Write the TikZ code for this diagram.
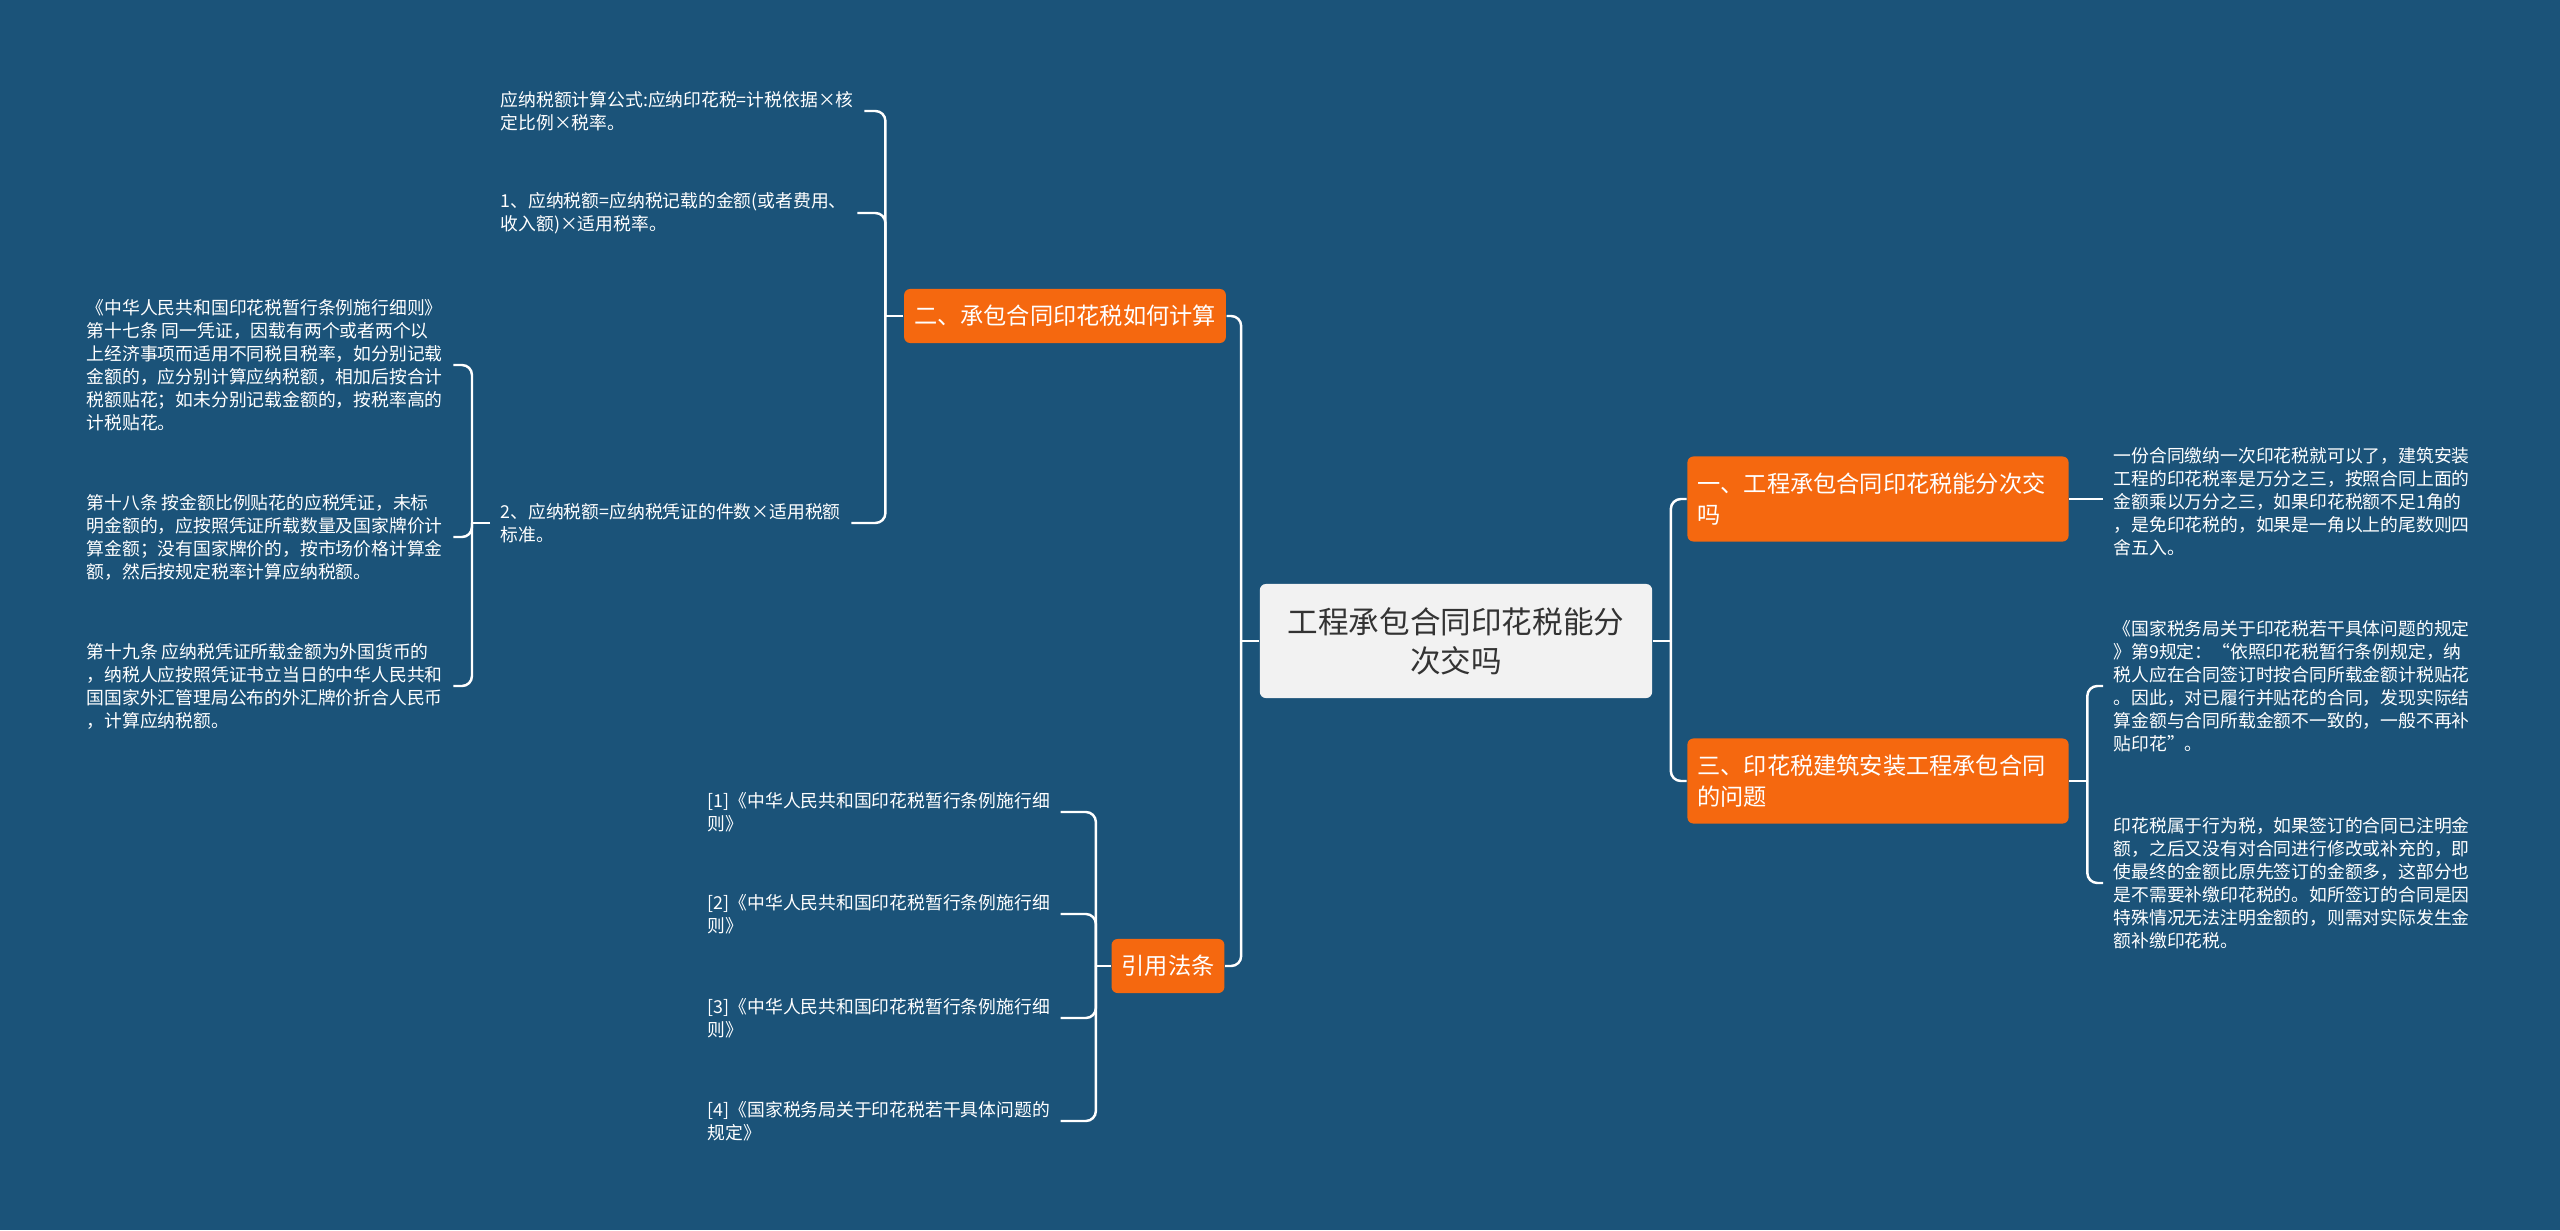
\documentclass[tikz,border=0pt]{standalone}
\usepackage{fontspec}
\setmainfont{Noto Sans CJK SC}
\usepackage{tikz}
\definecolor{bg}{HTML}{1B5379}
\definecolor{orange}{HTML}{F5680F}
\definecolor{rootfill}{HTML}{F2F2F2}
\definecolor{darktext}{HTML}{333333}

\begin{document}
\begin{tikzpicture}[
  x=0.01cm,
  y=-0.01cm,
  rootbox/.style={fill=rootfill, text=darktext, rounded corners=0.06cm, align=center,
    minimum width=3.92cm, minimum height=1.14cm, font=\fontsize{8.7}{11.1}\selectfont},
  topic/.style={fill=orange, text=white, rounded corners=0.06cm, inner xsep=0.1cm,
    inner ysep=0pt, minimum height=0.54cm, font=\fontsize{6.6}{8.6}\selectfont},
  wide/.style={text width=3.61cm, align=left, minimum height=0.85cm},
  leaf/.style={text=white, anchor=west, align=left, inner xsep=0.1cm, inner ysep=0pt,
    font=\fontsize{5.06}{6.55}\selectfont},
  link/.style={draw=white, line width=0.7pt, rounded corners=0.1cm}
]
  \fill[bg] (0,0) rectangle (2560,1230);

  \node[rootbox] (root) at (1456,641) {工程承包合同印花税能分\\次交吗};

  \node[topic] (calc) at (1065,316) {二、承包合同印花税如何计算};
  \node[topic] (cite) at (1168,966) {引用法条};
  \node[topic, wide] (once) at (1878,499) {一、工程承包合同印花税能分次交\\吗};
  \node[topic, wide] (issue) at (1878,781) {三、印花税建筑安装工程承包合同\\的问题};

  \node[leaf] (formula) at (490,111) {应纳税额计算公式:应纳印花税=计税依据×核\\定比例×税率。};
  \node[leaf] (rateA) at (490,213) {1、应纳税额=应纳税记载的金额(或者费用、\\收入额)×适用税率。};
  \node[leaf] (rateB) at (490,523) {2、应纳税额=应纳税凭证的件数×适用税额\\标准。};

  \node[leaf] (ruleA) at (76,365) {《中华人民共和国印花税暂行条例施行细则》\\第十七条 同一凭证，因载有两个或者两个以\\上经济事项而适用不同税目税率，如分别记载\\金额的，应分别计算应纳税额，相加后按合计\\税额贴花；如未分别记载金额的，按税率高的\\计税贴花。};
  \node[leaf] (ruleB) at (76,537) {第十八条 按金额比例贴花的应税凭证，未标\\明金额的，应按照凭证所载数量及国家牌价计\\算金额；没有国家牌价的，按市场价格计算金\\额，然后按规定税率计算应纳税额。};
  \node[leaf] (ruleC) at (76,686) {第十九条 应纳税凭证所载金额为外国货币的\\，纳税人应按照凭证书立当日的中华人民共和\\国国家外汇管理局公布的外汇牌价折合人民币\\，计算应纳税额。};

  \node[leaf] (refA) at (697,812) {[1]《中华人民共和国印花税暂行条例施行细\\则》};
  \node[leaf] (refB) at (697,914) {[2]《中华人民共和国印花税暂行条例施行细\\则》};
  \node[leaf] (refC) at (697,1018) {[3]《中华人民共和国印花税暂行条例施行细\\则》};
  \node[leaf] (refD) at (697,1121) {[4]《国家税务局关于印花税若干具体问题的\\规定》};

  \node[leaf] (pay) at (2103,502) {一份合同缴纳一次印花税就可以了，建筑安装\\工程的印花税率是万分之三，按照合同上面的\\金额乘以万分之三，如果印花税额不足1角的\\，是免印花税的，如果是一角以上的尾数则四\\舍五入。};
  \node[leaf] (fixA) at (2103,686) {《国家税务局关于印花税若干具体问题的规定\\》第9规定：“依照印花税暂行条例规定，纳\\税人应在合同签订时按合同所载金额计税贴花\\。因此，对已履行并贴花的合同，发现实际结\\算金额与合同所载金额不一致的，一般不再补\\贴印花”。};
  \node[leaf] (fixB) at (2103,883) {印花税属于行为税，如果签订的合同已注明金\\额，之后又没有对合同进行修改或补充的，即\\使最终的金额比原先签订的金额多，这部分也\\是不需要补缴印花税的。如所签订的合同是因\\特殊情况无法注明金额的，则需对实际发生金\\额补缴印花税。};

  \coordinate (rootW) at ([xshift=-0.18cm]root.west);
  \coordinate (rootE) at ([xshift=0.18cm]root.east);
  \coordinate (calcW) at ([xshift=-0.18cm]calc.west);
  \coordinate (rateBW) at ([xshift=-0.18cm]rateB.west);
  \coordinate (citeW) at ([xshift=-0.15cm]cite.west);
  \coordinate (issueE) at ([xshift=0.18cm]issue.east);

  \draw[link] (root.west) -- (rootW);
  \foreach \n in {calc,cite}
    \draw[link] (rootW) |- (\n.east);
  \draw[link] (root.east) -- (rootE);
  \foreach \n in {once,issue}
    \draw[link] (rootE) |- (\n.west);

  \draw[link] (calc.west) -- (calcW);
  \foreach \n in {formula,rateA,rateB}
    \draw[link] (calcW) |- (\n.east);
  \draw[link] (rateB.west) -- (rateBW);
  \foreach \n in {ruleA,ruleB,ruleC}
    \draw[link] (rateBW) |- (\n.east);

  \draw[link] (cite.west) -- (citeW);
  \foreach \n in {refA,refB,refC,refD}
    \draw[link] (citeW) |- (\n.east);

  \draw[link] (once.east) -- (once.east -| pay.west);
  \draw[link] (issue.east) -- (issueE);
  \foreach \n in {fixA,fixB}
    \draw[link] (issueE) |- (\n.west);
\end{tikzpicture}
\end{document}
